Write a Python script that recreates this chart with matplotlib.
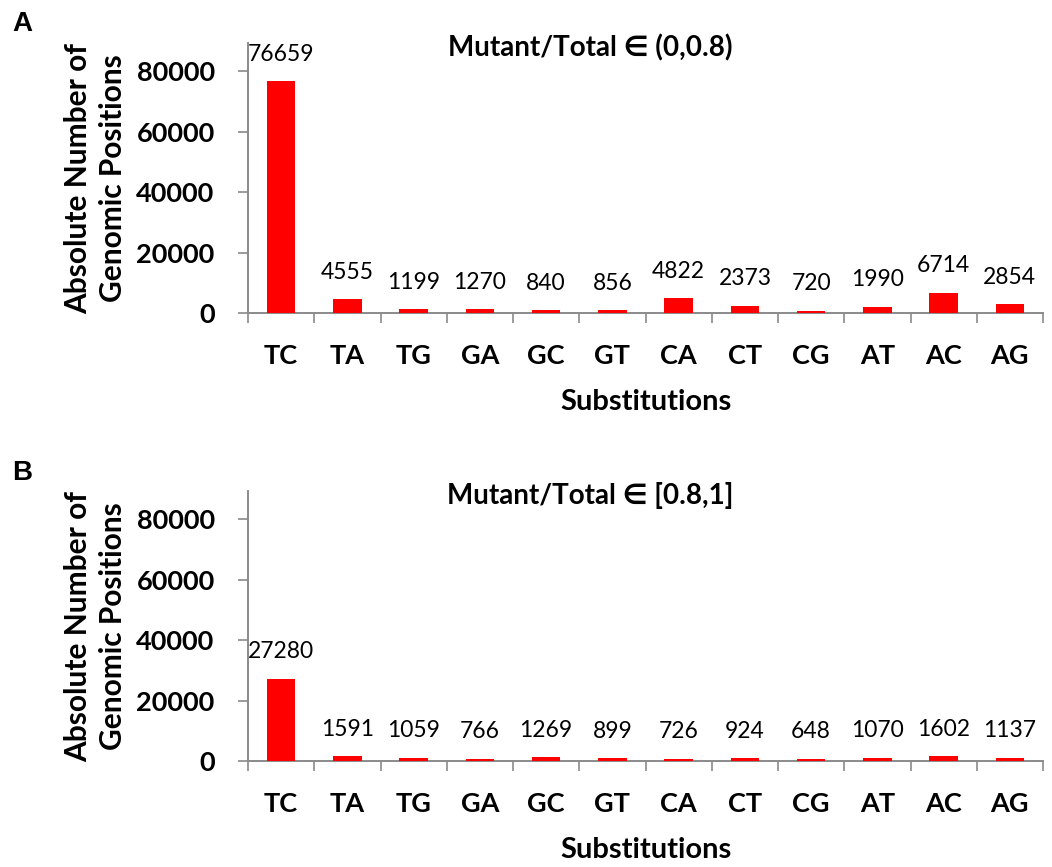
import matplotlib
matplotlib.use("Agg")
import matplotlib.pyplot as plt
import numpy as np

categories = ["TC", "TA", "TG", "GA", "GC", "GT", "CA", "CT", "CG", "AT", "AC", "AG"]
values_a = [76659, 4555, 1199, 1270, 840, 856, 4822, 2373, 720, 1990, 6714, 2854]
values_b = [27280, 1591, 1059, 766, 1269, 899, 726, 924, 648, 1070, 1602, 1137]
title_a = "Mutant/Total \u2208 (0,0.8)"
title_b = "Mutant/Total \u2208 [0.8,1]"
yticks = [0, 20000, 40000, 60000, 80000]

FAM = ["Lato", "DejaVu Sans"]
plt.rcParams["font.family"] = FAM
AX_COL = "#8a8a8a"

W, H = 1052, 867
fig = plt.figure(figsize=(W / 100, H / 100), dpi=100)

def panel(y0_px, vals, title, letter, letter_y_px):
    left, right, top_h = 248, 1043, 270
    rect = [left / W, (H - y0_px) / H, (right - left) / W, top_h / H]
    ax = fig.add_axes(rect)
    x = np.arange(len(categories))
    ax.bar(x, vals, width=0.43, color="#ff0000", zorder=3)
    ax.set_xlim(-0.5, len(categories) - 0.5)
    ax.set_ylim(0, 89300)
    ax.set_yticks(yticks)
    ax.set_yticklabels([str(v) for v in yticks], fontsize=19.5, fontweight="bold")
    ax.set_xticks(x)
    ax.set_xticklabels(categories, fontsize=19.5, fontweight="bold")
    ax.set_xticks(np.arange(-0.5, len(categories)), minor=True)
    ax.tick_params(axis="x", which="major", length=0, pad=22)
    ax.tick_params(axis="x", which="minor", length=7.5, color=AX_COL, width=1.2, direction="out")
    ax.tick_params(axis="y", length=7, color=AX_COL, width=1.2, pad=17)
    for s in ["top", "right"]:
        ax.spines[s].set_visible(False)
    for s in ["left", "bottom"]:
        ax.spines[s].set_color(AX_COL)
        ax.spines[s].set_linewidth(1.4)
    for xi, v in zip(x, vals):
        ax.annotate(str(v), (xi, v), xytext=(0, 19.5), textcoords="offset points",
                    ha="center", va="center", fontsize=16.5)
    ax.text(0.431, 0.983, title, transform=ax.transAxes, fontsize=20, fontweight="bold",
            ha="center", va="center")
    ax.set_ylabel("Absolute Number of\nGenomic Positions", fontsize=21.5, fontweight="bold",
                  linespacing=1.3)
    ax.yaxis.set_label_coords((127 - left) / (right - left), 0.5)
    ax.set_xlabel("Substitutions", fontsize=21, fontweight="bold")
    ax.xaxis.set_label_coords(0.5, -76 / top_h)
    fig.text(22 / W, 1 - letter_y_px / H, letter, fontsize=20, fontweight="bold",
             family=["Liberation Sans", "DejaVu Sans"], va="center", ha="center")
    return ax

panel(313, values_a, title_a, "A", 24)
panel(761, values_b, title_b, "B", 473)

fig.savefig("out.png", dpi=100)
